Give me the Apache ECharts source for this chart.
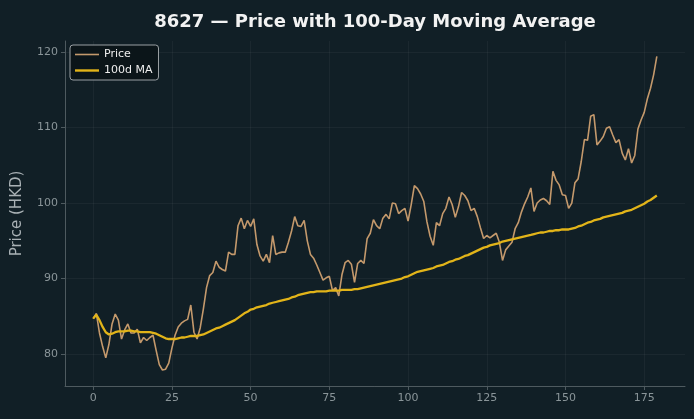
<!DOCTYPE html>
<html><head><meta charset="utf-8">
<script src="https://cdn.jsdelivr.net/npm/echarts@6/dist/echarts.min.js"></script>
<style>html,body{margin:0;padding:0;background:#111f26;}#c{width:694px;height:419px;}</style>
</head><body><div id="c"></div>
<script>
const title = "8627 — Price with 100-Day Moving Average";
const xTicks = [0, 25, 50, 75, 100, 125, 150, 175];
const yTicks = [80, 90, 100, 110, 120];
const price = [
84.7,85.4,82.8,81.0,79.5,81.3,84.0,85.3,84.5,82.0,
83.2,84.0,82.8,82.8,83.3,81.5,82.2,81.8,82.2,82.5,
80.5,78.6,77.9,78.0,78.8,80.8,82.5,83.6,84.1,84.4,
84.6,86.5,82.9,82.0,83.5,86.0,88.8,90.4,90.8,92.3,
91.5,91.2,91.0,93.5,93.2,93.2,97.0,98.0,96.6,97.7,
96.9,97.9,94.5,93.0,92.3,93.2,92.1,95.7,93.2,93.4,
93.5,93.5,94.8,96.3,98.2,97.0,96.9,97.7,95.0,93.2,
92.7,91.8,90.8,89.8,90.1,90.3,88.4,88.8,87.7,90.5,
92.1,92.4,91.9,89.5,92.0,92.4,92.0,95.3,96.0,97.8,
97.0,96.6,98.0,98.5,97.9,100.0,99.9,98.6,99.0,99.3,
97.6,99.8,102.3,101.9,101.2,100.2,97.5,95.6,94.4,97.4,
97.0,98.6,99.3,100.8,99.8,98.1,99.5,101.4,101.0,100.3,
99.0,99.3,98.2,96.7,95.3,95.7,95.4,95.7,96.0,94.8,
92.4,93.8,94.3,94.8,96.6,97.4,98.8,99.9,100.8,102.0,
98.9,100.0,100.4,100.6,100.3,99.8,104.2,103.0,102.4,101.1,
101.0,99.3,100.0,102.7,103.2,105.5,108.4,108.3,111.5,111.7,
107.7,108.2,108.8,109.9,110.1,109.0,108.0,108.4,106.6,105.7,
107.2,105.3,106.3,109.8,111.0,112.0,113.8,115.2,117.0,119.4
];
const ma100 = [
84.7,85.2,84.5,83.6,82.9,82.6,82.7,82.9,83.0,83.0,
83.0,83.1,83.1,83.0,83.0,82.9,82.9,82.9,82.9,82.8,
82.7,82.5,82.3,82.1,82.0,82.0,82.0,82.1,82.2,82.2,
82.3,82.4,82.4,82.4,82.5,82.6,82.8,83.0,83.2,83.4,
83.5,83.7,83.9,84.1,84.3,84.5,84.8,85.1,85.4,85.6,
85.9,86.0,86.2,86.3,86.4,86.5,86.7,86.8,86.9,87.0,
87.1,87.2,87.3,87.5,87.6,87.8,87.9,88.0,88.1,88.2,
88.2,88.3,88.3,88.3,88.3,88.4,88.4,88.4,88.4,88.5,
88.5,88.5,88.5,88.6,88.6,88.7,88.8,88.9,89.0,89.1,
89.2,89.3,89.4,89.5,89.6,89.7,89.8,89.9,90.0,90.2,
90.3,90.5,90.7,90.9,91.0,91.1,91.2,91.3,91.4,91.6,
91.7,91.8,92.0,92.2,92.3,92.5,92.6,92.8,93.0,93.1,
93.3,93.5,93.7,93.9,94.1,94.2,94.4,94.5,94.6,94.7,
94.9,95.0,95.1,95.2,95.3,95.4,95.5,95.6,95.7,95.8,
95.9,96.0,96.1,96.1,96.2,96.3,96.3,96.4,96.4,96.5,
96.5,96.5,96.6,96.7,96.9,97.0,97.2,97.4,97.5,97.7,
97.8,97.9,98.1,98.2,98.3,98.4,98.5,98.6,98.7,98.9,
99.0,99.1,99.3,99.5,99.7,99.9,100.2,100.4,100.7,101.0
];
const priceData = price.map((v, i) => [i, v]);
const maData = ma100.map((v, i) => [i, v]);

const axisColor = '#4e5a5f';
const labelColor = '#8a9599';
const gridColor = 'rgba(255,255,255,0.045)';
const priceColor = '#c4996c';
const maColor = '#e2b419';

const chart = echarts.init(document.getElementById('c'), null, {renderer: 'canvas'});
chart.setOption({
  backgroundColor: '#111f26',
  animation: false,
  title: {
    text: title, left: 370, textAlign: 'center', top: 8,
    textStyle: {color: '#f2f2f2', fontSize: 18, fontWeight: 'bold', fontFamily: 'DejaVu Sans'}
  },
  legend: {
    left: 70, top: 45, orient: 'vertical',
    backgroundColor: '#0b1519', borderColor: '#9aa0a3', borderWidth: 1, borderRadius: 3,
    padding: [4, 6, 4, 5], itemGap: 5, itemWidth: 24, itemHeight: 8,
    textStyle: {color: '#eeeeee', fontSize: 11, fontFamily: 'DejaVu Sans'},
    data: [
      {name: 'Price', icon: 'path://M0,3.2H24V4.8H0Z', itemStyle: {color: priceColor}},
      {name: '100d MA', icon: 'path://M0,2.8H24V5.2H0Z', itemStyle: {color: maColor}}
    ]
  },
  grid: {left: 65, right: 9, top: 41, bottom: 33},
  xAxis: {
    type: 'value', min: -8.95, max: 187.95,
    axisLine: {show: true, onZero: false, lineStyle: {color: axisColor}},
    axisTick: {show: true, length: 4, lineStyle: {color: axisColor}, customValues: xTicks},
    axisLabel: {color: labelColor, fontSize: 11, fontFamily: 'DejaVu Sans', margin: 7, customValues: xTicks},
    splitLine: {show: true, lineStyle: {color: gridColor}, customValues: xTicks}
  },
  yAxis: {
    type: 'value', min: 75.78, max: 121.45,
    name: 'Price (HKD)', nameLocation: 'middle', nameGap: 40,
    nameTextStyle: {color: '#a9b1b5', fontSize: 15, fontFamily: 'DejaVu Sans'},
    axisLine: {show: true, onZero: false, lineStyle: {color: axisColor}},
    axisTick: {show: true, length: 4, lineStyle: {color: axisColor}, customValues: yTicks},
    axisLabel: {color: labelColor, fontSize: 11, fontFamily: 'DejaVu Sans', margin: 7, customValues: yTicks},
    splitLine: {show: true, lineStyle: {color: gridColor}, customValues: yTicks}
  },
  series: [
    {name: 'Price', type: 'line', data: priceData, showSymbol: false, symbol: 'none',
     lineStyle: {color: priceColor, width: 1.6}, itemStyle: {color: priceColor}, z: 2},
    {name: '100d MA', type: 'line', data: maData, showSymbol: false, symbol: 'none',
     lineStyle: {color: maColor, width: 2.3}, itemStyle: {color: maColor}, z: 3}
  ]
});
</script>
</body></html>
